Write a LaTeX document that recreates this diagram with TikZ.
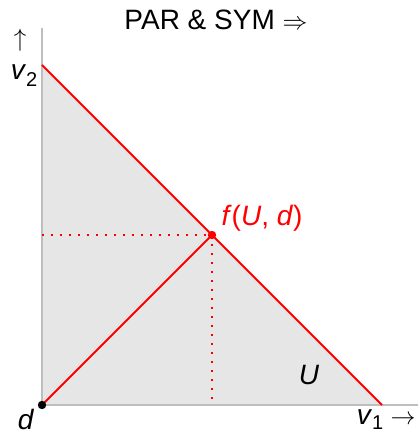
\documentclass[tikz,border=0pt]{standalone}
\usepackage{fontspec}
\setmainfont{Liberation Sans}
\begin{document}
\begin{tikzpicture}[x=1pt,y=-1pt,
  axis/.style={draw={rgb,255:red,190;green,190;blue,190},line width=2pt},
  redline/.style={draw=red,line width=2pt},
  reddot/.style={draw=red,line width=1.6pt,dash pattern=on 1.6pt off 7.4pt},
  lbl/.style={inner sep=0pt,font=\fontsize{28}{34}\selectfont}]
\useasboundingbox (0,0) rectangle (418,435);
\coordinate (O) at (42,405);
\coordinate (T) at (42,65);
\coordinate (R) at (382,405);
\coordinate (F) at (212,235);
\coordinate (YA) at (42,28);
\coordinate (XA) at (418,405);
\coordinate (FY) at (42,235);
\coordinate (FX) at (212,405);
\fill[fill={rgb,255:red,230;green,230;blue,230}] (O) -- (T) -- (R) -- cycle;
\draw[axis] (YA) -- (O) -- (XA);
\draw[reddot] (FY) -- (F);
\draw[reddot] (F) -- (FX);
\draw[redline] (T) -- (R);
\draw[redline] (O) -- (F);
\fill[red] (F) circle (4.2);
\fill[black] (O) circle (4.2);
\node[lbl] (title) at (216,20) {PAR \& SYM $\Rightarrow$};
\node[lbl] (up) at (20,40) {$\uparrow$};
\node[lbl,anchor=base] (v2) at (24,80) {\textit{v}\raisebox{-0.22em}{\fontsize{20}{24}\selectfont 2}};
\node[lbl,anchor=base] (dl) at (26,429) {\textit{d}};
\node[lbl,anchor=base] (v1) at (370,424) {\textit{v}\raisebox{-0.18em}{\fontsize{20}{24}\selectfont 1}};
\node[lbl] (ra) at (403,420) {$\rightarrow$};
\node[lbl,anchor=base,text=red] (fl) at (262,225) {\textit{f}(\textit{U}, \textit{d})};
\node[lbl,anchor=base] (ul) at (309,384) {\textit{U}};
\end{tikzpicture}
\end{document}
